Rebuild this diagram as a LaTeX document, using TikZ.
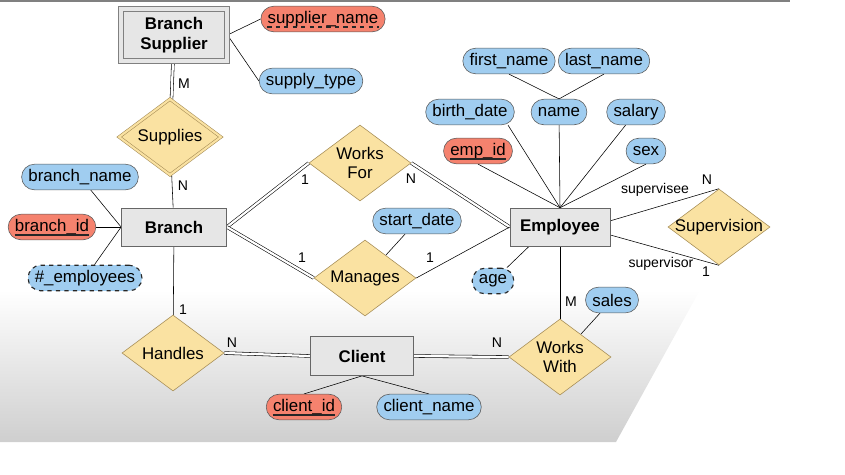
\documentclass[tikz,border=0pt]{standalone}
\usepackage{fontspec}
\setmainfont{Liberation Sans}
\usetikzlibrary{shapes.geometric,backgrounds}
\definecolor{attrfill}{RGB}{160,205,240}
\definecolor{keyfill}{RGB}{245,130,110}
\definecolor{relfill}{RGB}{250,226,162}
\definecolor{relline}{RGB}{165,140,85}
\definecolor{entfill}{RGB}{230,230,230}
\newcommand{\keyline}[2][]{\draw [line width=1.1pt,black!85,#1] ([xshift=0.17cm,yshift=-2.4pt]#2.base west) -- ([xshift=-0.17cm,yshift=-2.4pt]#2.base east);}
\begin{document}
\begin{tikzpicture}
  [font=\fontsize{12}{14}\selectfont,
   entity/.style={rectangle,draw=black!60,fill=entfill,font=\fontsize{12}{14}\selectfont\bfseries,
     minimum height=0.95cm,align=center},
   weakentity/.style={entity,draw=black!50,line width=0.7pt,double=entfill,double distance=3pt},
   attr/.style={rectangle,rounded corners=0.32cm,draw=black!65,fill=attrfill,
     minimum height=0.64cm,inner xsep=0.17cm},
   keyattr/.style={attr,fill=keyfill},
   derived/.style={attr,dashed,thick,draw=black!85},
   rel/.style={diamond,draw=relline,fill=relfill,minimum width=2.55cm,minimum height=1.9cm,
     inner sep=0pt,label={[align=center]center:#1}},
   weakrel/.style={rel=#1,double=relfill,double distance=1.5pt},
   card/.style={font=\fontsize{10}{12}\selectfont,inner sep=0pt},
   dbl/.style={double,double distance=1.6pt}]
  \useasboundingbox (0,0) rectangle (21.125,-11.85);

  \node (bsupp) at (4.35,-0.875) [weakentity,minimum width=2.65cm,minimum height=1.3cm] {Branch\\Supplier};
  \node (sname) at (8.075,-0.475) [keyattr] {supplier\_name};
  \node (stype) at (7.775,-2.025) [attr] {supply\_type};
  \node (supplies) at (4.25,-3.425) [weakrel=Supplies] {};

  \node (branch) at (4.35,-5.675) [entity,minimum width=2.63cm] {Branch};
  \node (bname) at (2.0,-4.425) [attr] {branch\_name};
  \node (bid) at (1.3,-5.675) [keyattr] {branch\_id};
  \node (bemp) at (2.125,-6.95) [derived] {\#\_employees};

  \node (worksfor) at (9.0,-4.075) [rel={Works\\For}] {};
  \node (manages) at (9.125,-6.95) [rel=Manages] {};
  \node (sdate) at (10.425,-5.525) [attr] {start\_date};

  \node (employee) at (14.0,-5.675) [entity,minimum width=2.5cm] {Employee};
  \node (empid) at (11.95,-3.775) [keyattr] {emp\_id};
  \node (bdate) at (11.75,-2.8) [attr] {birth\_date};
  \node (name) at (13.975,-2.8) [attr] {name};
  \node (salary) at (15.9,-2.8) [attr] {salary};
  \node (sex) at (16.15,-3.775) [attr] {sex};
  \node (fname) at (12.725,-1.525) [attr] {first\_name};
  \node (lname) at (15.1,-1.525) [attr] {last\_name};
  \node (age) at (12.325,-7.025) [derived] {age};
  \node (supervision) at (17.975,-5.675) [rel=Supervision] {};

  \node (handles) at (4.325,-8.825) [rel=Handles] {};
  \node (client) at (9.05,-8.9) [entity,minimum width=2.58cm,minimum height=0.98cm] {Client};
  \node (cid) at (7.6,-10.175) [keyattr] {client\_id};
  \node (cname) at (10.725,-10.175) [attr] {client\_name};
  \node (workswith) at (14.0,-8.925) [rel={Works\\With}] {};
  \node (sales) at (15.3,-7.5) [attr] {sales};

  \keyline[dashed]{sname}
  \keyline{bid}
  \keyline{empid}
  \keyline{cid}

  \begin{scope}[on background layer]
  \shade [top color=white,bottom color=black!19] (0,-7.25) -- (17.5,-7.25) -- (15.4,-11.05) -- (0,-11.05) -- cycle;
  \draw [black!50,line width=1.5pt] (0,-0.03) -- (19.75,-0.03);

  \draw (bsupp.east) to (sname.west);
  \draw (bsupp.east) to (stype.west);
  \draw [dbl] (bsupp) to (supplies);
  \draw (supplies) to (branch);

  \draw (bname) to (branch.west);
  \draw (bid) to (branch.west);
  \draw (bemp) to (branch.west);

  \draw [dbl] (branch.east) to (worksfor.west);
  \draw [dbl] (worksfor.east) to (employee.west);
  \draw [dbl] (branch.east) to (manages.west);
  \draw (manages.east) to (employee.west);
  \draw (sdate) to (manages);

  \draw (fname.south) to (name.north);
  \draw (lname.south) to (name.north);
  \draw (bdate.-19) to (employee.north);
  \draw (name) to (employee.north);
  \draw (salary) to (employee.north);
  \draw (empid.south) to (employee.north);
  \draw (sex.south) to (employee.north);
  \draw (employee.-148) to (age);
  \draw (employee.7) to (supervision.north);
  \draw (employee.-9) to (supervision.south);

  \draw (branch) to (handles);
  \draw [dbl] (handles.east) to (client.west);
  \draw [dbl] (client.east) to (workswith.west);
  \draw (employee) to (workswith);
  \draw (sales) to (workswith);
  \draw (client.south) to (cid.north);
  \draw (client.south) to (cname.north);
  \end{scope}

  \node (c1) at (4.6,-2.1) [card] {M};
  \node (c2) at (4.575,-4.65) [card] {N};
  \node (c3) at (7.625,-4.5) [card] {1};
  \node (c4) at (10.275,-4.475) [card] {N};
  \node (c5) at (7.55,-6.45) [card] {1};
  \node (c6) at (10.75,-6.45) [card] {1};
  \node (c7) at (4.575,-7.75) [card] {1};
  \node (c8) at (5.8,-8.575) [card] {N};
  \node (c9) at (12.425,-8.575) [card] {N};
  \node (c10) at (14.275,-7.55) [card] {M};
  \node (c11) at (17.675,-4.5) [card] {N};
  \node (c12) at (17.65,-6.8) [card] {1};
  \node (role1) at (16.375,-4.75) [card] {supervisee};
  \node (role2) at (16.525,-6.6) [card] {supervisor};
\end{tikzpicture}
\end{document}
